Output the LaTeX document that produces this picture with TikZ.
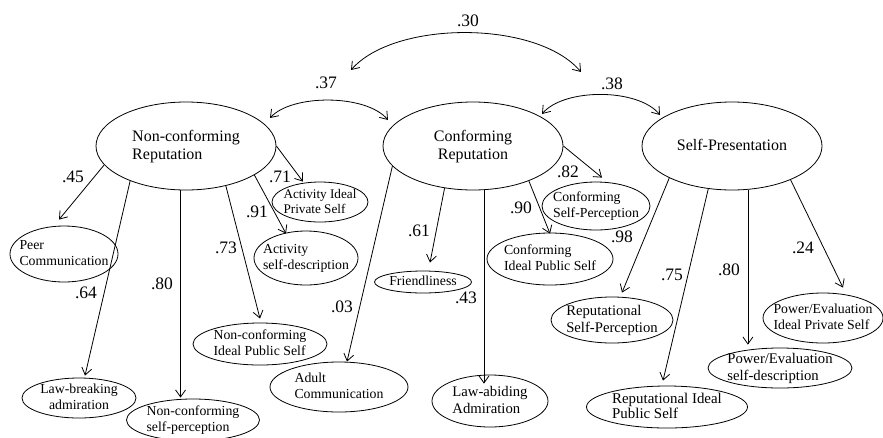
\documentclass[tikz,border=0pt]{standalone}
\usepackage{fontspec}
\setmainfont{Liberation Serif}
\usetikzlibrary{shapes.geometric,arrows.meta,calc}

% text block of zero size, so the ellipse keeps the size given to it
\newcommand\ntext[2][l]{\makebox[0pt]{\smash{\raisebox{-0.3em}{\begin{tabular}{@{}#1@{}}#2\end{tabular}}}}}

\tikzset{
  lat/.style={draw, ellipse, line width=0.8pt, inner sep=0pt,
    minimum width=180pt, minimum height=88pt, font=\fontsize{16}{18}\selectfont},
  obs/.style={draw, ellipse, line width=0.8pt, inner sep=0pt,
    font=\fontsize{13.8}{16}\selectfont},
  obsbig/.style={obs, font=\fontsize{14.7}{16.5}\selectfont},
  load/.style={font=\fontsize{17.5}{20}\selectfont, inner sep=0pt},
  barb/.tip={Straight Barb[length=7pt,width=10pt]},
  path/.style={line width=0.8pt, -barb},
  cov/.style={line width=0.8pt, barb-barb},
}

\begin{document}
\begin{tikzpicture}[x=1pt, y=-1pt]
\useasboundingbox (0,0) rectangle (883,437);

% latent factors
\node[lat] (nc) at (186,146) {\ntext{Non-conforming\\Reputation}};
\node[lat] (cr) at (473,146) {\ntext[c]{Conforming\\Reputation}};
\node[lat] (sp) at (732,146) {\ntext{Self-Presentation}};

% indicators
\node[obs, minimum width=108pt, minimum height=56pt] (peer)  at (64,254)  {\ntext{Peer\\Communication}};
\node[obs, minimum width=114pt, minimum height=40pt] (lawb)  at (79,398)  {\ntext[c]{Law-breaking\\admiration}};
\node[obs, minimum width=133pt, minimum height=42pt] (ncsp)  at (193,420) {\ntext{Non-conforming\\self-perception}};
\node[obs, minimum width=134pt, minimum height=42pt] (ncips) at (260,344) {\ntext{Non-conforming\\Ideal Public Self}};
\node[obs, minimum width=96pt,  minimum height=40pt, font=\fontsize{13.2}{15.5}\selectfont] (aips) at (320,202) {\ntext{Activity Ideal\\Private Self}};
\node[obs, minimum width=104pt, minimum height=54pt] (asd)   at (306,258) {\ntext{Activity\\self-description}};
\node[obs, minimum width=97pt,  minimum height=22pt] (friend) at (423,282) {\ntext{Friendliness}};
\node[obs, minimum width=138pt, minimum height=50pt] (adult) at (339,387) {\ntext{Adult\\Communication}};
\node[obsbig, minimum width=116pt, minimum height=52pt] (lawa) at (490,401) {\ntext{Law-abiding\\Admiration}};
\node[obs, minimum width=108pt, minimum height=48pt] (csp)   at (596,206) {\ntext{Conforming\\Self-Perception}};
\node[obs, minimum width=126pt, minimum height=52pt] (cips)  at (550,259) {\ntext{Conforming\\Ideal Public Self}};
\node[obsbig, minimum width=122pt, minimum height=46pt] (rsp) at (612,320) {\ntext{Reputational\\Self-Perception}};
\node[obsbig, minimum width=161pt, minimum height=42pt, font=\fontsize{14.9}{15.5}\selectfont] (ripc) at (667,407) {\ntext{Reputational Ideal\\Public Self}};
\node[obsbig, minimum width=144pt, minimum height=40pt] (pesd) at (780,368) {\ntext{Power/Evaluation\\self-description}};
\node[obs, minimum width=120pt, minimum height=50pt] (peips)  at (823,318) {\ntext{Power/Evaluation\\Ideal Private Self}};

% loadings of Non-conforming Reputation
\draw[path] (nc.193) -- ($(peer.north)+(-5,-6)$);
\draw[path] (nc.212) -- ($(lawb.north)+(6,-2)$);
\draw[path] (nc.263) -- ($(nc.263 |- ncsp.north)+(0,-1)$);
\draw[path] (nc.315) -- ($(ncips.north)+(0,-4)$);
\draw[path] (nc.337) -- ($(asd.north)+(-20,3)$);
\draw[path] (nc.east) -- ($(aips.north)+(-17,0)$);
\node[load] (l45) at (73,177) {.45};
\node[load] (l64) at (86,293) {.64};
\node[load] (l80a) at (162,284) {.80};
\node[load] (l73) at (226,248) {.73};
\node[load] (l91) at (257,212) {.91};
\node[load] (l71) at (280,177) {.71};

% loadings of Conforming Reputation
\draw[path] (cr.194) -- ($(adult.north)+(8,0)$);
\draw[path] (cr.236) -- ($(friend.north)+(7,-8)$);
\draw[path] (cr.284) -- ($(cr.284 |- lawa.north)+(0,9)$);
\draw[path] (cr.328) -- ($(cips.north)+(0,1)$);
\draw[path] (cr.east) -- ($(csp.north)+(6,-4)$);
\node[load] (l03) at (342,307) {.03};
\node[load] (l61) at (419,231) {.61};
\node[load] (l43) at (466,298) {.43};
\node[load] (l90) at (521,208) {.90};
\node[load] (l82) at (568,172) {.82};

% loadings of Self-Presentation
\draw[path] (sp.207) -- ($(rsp.north)+(10,-4)$);
\draw[path] (sp.241) -- ($(ripc.north)+(-4,-5)$);
\draw[path] (sp.290) -- ($(sp.290 |- pesd.north)+(0,-3)$);
\draw[path] (sp.330) -- ($(peips.north)+(20,-5)$);
\node[load] (l98) at (622,237) {.98};
\node[load] (l75) at (672,275) {.75};
\node[load] (l80b) at (729,270) {.80};
\node[load] (l24) at (803,248) {.24};

% factor covariances
\draw[cov] ($(nc.center)+(84,-28)$) .. controls (292,94) and (366,94) .. ($(cr.center)+(-85,-26)$);
\draw[cov] ($(cr.center)+(69,-32)$) .. controls (564,88) and (638,88) .. ($(sp.center)+(-72,-31)$);
\draw[cov] ($(nc.center)+(165,-76)$) .. controls (395,20) and (537,20) .. ($(sp.center)+(-151,-74)$);
\node[load] (l37) at (326,83) {.37};
\node[load] (l38) at (612,84) {.38};
\node[load] (l30) at (468,21) {.30};
\end{tikzpicture}
\end{document}
